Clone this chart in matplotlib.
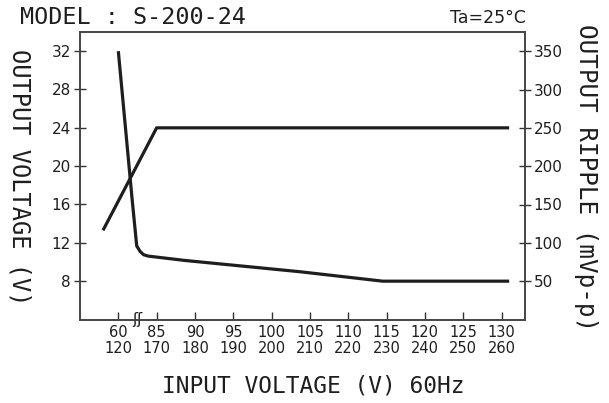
import numpy as np
import matplotlib
matplotlib.use("Agg")
import matplotlib.pyplot as plt

# ---- data ----
tick_v_low = [60, 85, 90, 95, 100, 105, 110, 115, 120, 125, 130]
tick_v_high = [120, 170, 180, 190, 200, 210, 220, 230, 240, 250, 260]

volt_in = [50, 85, 131]
volt_out = [13.3, 24, 24]

ripple_in = [60, 69, 72, 74.2, 76.5, 79.5, 88.7, 103.7, 114.5, 131]
ripple_mv = [350, 157, 96, 88.8, 84.5, 82.7, 77, 62.3, 50, 50]

left_ticks = [8, 12, 16, 20, 24, 28, 32]
right_ticks = [50, 100, 150, 200, 250, 300, 350]


# broken x-axis: 60..85 compressed to one tick interval
def fwd(v):
    v = np.asarray(v, dtype=float)
    return np.where(v >= 85, (v - 85) / 5.0 + 1.0, (v - 60) / 25.0)


def inv(p):
    p = np.asarray(p, dtype=float)
    return np.where(p >= 1, 85 + 5.0 * (p - 1.0), 60 + 25.0 * p)


FONT = "DejaVu Sans"
MONO = "DejaVu Sans Mono"
col = "#1e1e1e"

fig = plt.figure(figsize=(6.09, 4.03), dpi=100)
ax = fig.add_axes([80 / 609, 1 - 319.5 / 403, 444.5 / 609, 287.5 / 403])
ax2 = ax.twinx()

ax.set_xscale("function", functions=(fwd, inv))
ax.set_xlim(35, 133)
ax.set_ylim(4, 34)
ax2.set_ylim(0, 375)

ax.plot(volt_in, volt_out, color=col, lw=2.3, solid_joinstyle="round", solid_capstyle="butt")
ax2.plot(ripple_in, ripple_mv, color=col, lw=2.3, solid_joinstyle="round", solid_capstyle="butt")

ax.set_xticks(tick_v_low)
ax.set_xticklabels([f"{a}\n{b}" for a, b in zip(tick_v_low, tick_v_high)],
                   fontsize=10.5, family=FONT, linespacing=1.1, color=col)
ax.xaxis.set_minor_locator(matplotlib.ticker.NullLocator())
ax.tick_params(axis="x", direction="in", length=6, width=1, pad=4, colors="#333")
for lab in ax.get_xticklabels():
    lab.set_color(col)

ax.set_yticks(left_ticks)
ax.set_yticklabels([str(t) for t in left_ticks], fontsize=11, family=FONT, color=col)
ax.tick_params(axis="y", direction="inout", length=9, width=1, pad=2, colors="#333")
for lab in ax.get_yticklabels():
    lab.set_color(col)

ax2.set_yticks(right_ticks)
ax2.set_yticklabels([str(t) for t in right_ticks], fontsize=11, family=FONT, color=col)
ax2.tick_params(axis="y", direction="inout", length=9, width=1, pad=2, colors="#333")
for lab in ax2.get_yticklabels():
    lab.set_color(col)

for a in (ax, ax2):
    for s in a.spines.values():
        s.set_color("#444")
        s.set_linewidth(1.2)

# axis-break mark
ax.text(72.5, 0.0, "ʃʃ", transform=ax.get_xaxis_transform(), ha="center", va="center",
        fontsize=11, color=col, family=FONT)

# labels
fig.text(19 / 609, 1 - 177 / 403, "OUTPUT VOLTAGE (V)", rotation=-90, ha="center", va="center",
         fontsize=17, family=MONO, color=col)
fig.text(586 / 609, 1 - 178 / 403, "OUTPUT RIPPLE (mVp-p)", rotation=-90, ha="center", va="center",
         fontsize=17.5, family=MONO, color=col)
fig.text(313 / 609, 1 - 386 / 403, "INPUT VOLTAGE (V) 60Hz", ha="center", va="center",
         fontsize=16.5, family=MONO, color=col)
fig.text(20 / 609, 1 - 18 / 403, "MODEL : S-200-24", ha="left", va="center",
         fontsize=16.8, family=MONO, color=col)
fig.text(526 / 609, 1 - 18 / 403, "Ta=25°C", ha="right", va="center",
         fontsize=12.5, family=FONT, color=col)

fig.savefig("out.png", dpi=100, facecolor="white")
